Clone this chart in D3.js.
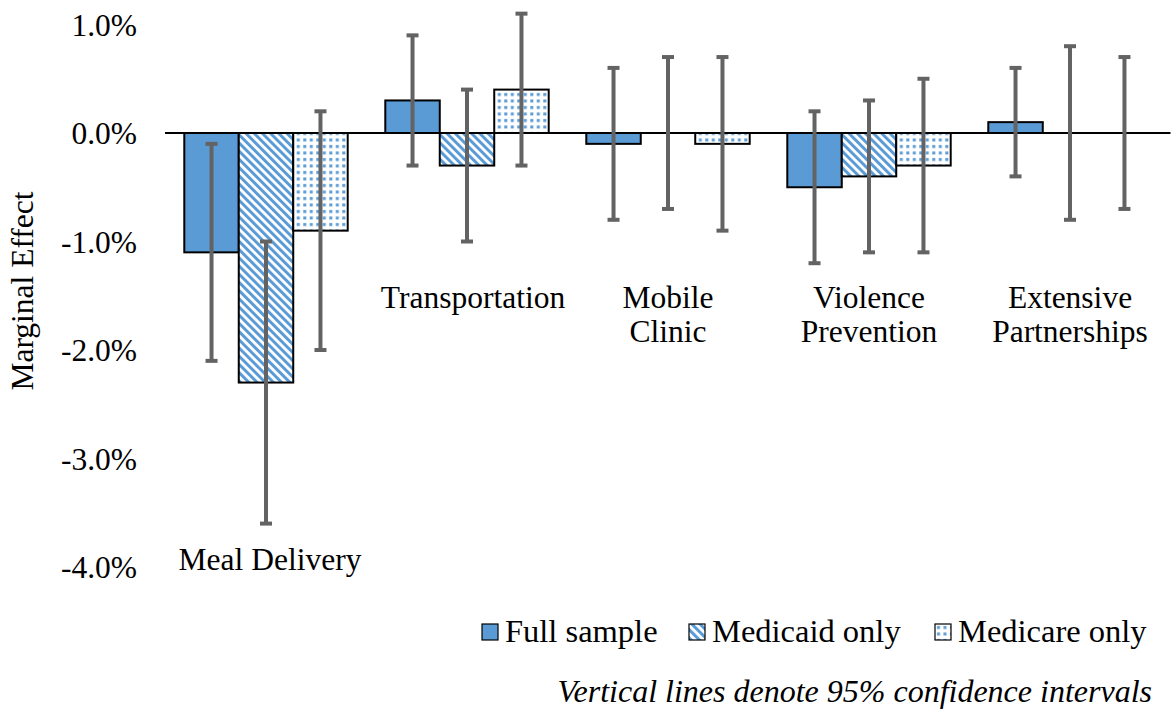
<!DOCTYPE html>
<html>
<head>
<meta charset="utf-8">
<script src="https://cdn.jsdelivr.net/npm/d3@7"></script>
<style>
  html, body { margin: 0; padding: 0; background: #fff; }
  svg { display: block; }
  svg text { font-family: "Liberation Serif", "Times New Roman", Tinos, "DejaVu Serif", serif; }
</style>
</head>
<body>
<svg id="chart" width="1172" height="711"></svg>
<script>
// Program categories (label lines) and marginal effects in percentage points
const categories = ["Meal Delivery", "Transportation", "Mobile Clinic", "Violence Prevention", "Extensive Partnerships"];
const categoryLines = [["Meal Delivery"], ["Transportation"], ["Mobile", "Clinic"], ["Violence", "Prevention"], ["Extensive", "Partnerships"]];
const seriesNames = ["Full sample", "Medicaid only", "Medicare only"];

const fullSample   = [-1.1,  0.3, -0.1, -0.5, 0.1];
const medicaidOnly = [-2.3, -0.3,  0.0, -0.4, 0.0];
const medicareOnly = [-0.9,  0.4, -0.1, -0.3, 0.0];

// 95% confidence interval bounds
const fullLow      = [-2.1, -0.3, -0.8, -1.2, -0.4];
const fullHigh     = [-0.1,  0.9,  0.6,  0.2,  0.6];
const medicaidLow  = [-3.6, -1.0, -0.7, -1.1, -0.8];
const medicaidHigh = [-1.0,  0.4,  0.7,  0.3,  0.8];
const medicareLow  = [-2.0, -0.3, -0.9, -1.1, -0.7];
const medicareHigh = [ 0.2,  1.1,  0.7,  0.5,  0.7];

const yTicks = [1, 0, -1, -2, -3, -4];
const noteText = "Vertical lines denote 95% confidence intervals";

const seriesValues = [fullSample, medicaidOnly, medicareOnly];
const seriesLow = [fullLow, medicaidLow, medicareLow];
const seriesHigh = [fullHigh, medicaidHigh, medicareHigh];

const rows = [];
categories.forEach((c, i) => {
  seriesNames.forEach((s, j) => {
    rows.push({ cat: c, series: s, idx: j, value: seriesValues[j][i], low: seriesLow[j][i], high: seriesHigh[j][i] });
  });
});

const svg = d3.select("#chart");
const FONT = 31.5;
const blue = "#5b9bd5";
const errColor = "#636363";

// Fill patterns
const defs = svg.append("defs");
const stripes = defs.append("pattern")
  .attr("id", "stripes").attr("patternUnits", "userSpaceOnUse")
  .attr("width", 5.8).attr("height", 5.8)
  .attr("patternTransform", "rotate(-45)");
stripes.append("rect").attr("width", 5.8).attr("height", 5.8).attr("fill", "#fff");
stripes.append("rect").attr("width", 3).attr("height", 5.8).attr("fill", blue);

const dots = defs.append("pattern")
  .attr("id", "dots").attr("patternUnits", "userSpaceOnUse")
  .attr("width", 6.5).attr("height", 6.5);
dots.append("rect").attr("width", 6.5).attr("height", 6.5).attr("fill", "#fff");
dots.append("rect").attr("x", 2).attr("y", 2).attr("width", 3).attr("height", 3).attr("fill", blue);

const fills = { "Full sample": blue, "Medicaid only": "url(#stripes)", "Medicare only": "url(#dots)" };

// Scales
const x0 = d3.scaleBand().domain(categories).range([165.5, 1170.5])
  .paddingInner(0.187).paddingOuter(0.0935);
const x1 = d3.scaleBand().domain(seriesNames).range([0, x0.bandwidth()]);
const y = d3.scaleLinear().domain([-4, 1]).range([567, 24.5]);

// Y tick labels (no axis line)
const yAxis = d3.axisLeft(y).tickValues(yTicks).tickSize(0).tickPadding(0)
  .tickFormat(d => d.toFixed(1) + "%");
const yg = svg.append("g").attr("transform", "translate(137,0)").call(yAxis);
yg.attr("font-family", null);
yg.select(".domain").remove();
yg.selectAll("text").attr("font-size", FONT).attr("fill", "#000").attr("dy", "0.34em");

// Y title
svg.append("text")
  .attr("transform", "translate(33,291) rotate(-90)")
  .attr("text-anchor", "middle").attr("font-size", FONT).attr("fill", "#000")
  .text("Marginal Effect");

// Bars
const barLayer = svg.append("g").attr("class", "bars");
const groups = barLayer.selectAll("g").data(categories).join("g")
  .attr("transform", d => `translate(${x0(d)},0)`);

groups.each(function(c) {
  d3.select(this).selectAll("rect").data(rows.filter(r => r.cat === c)).join("rect")
    .attr("x", d => x1(d.series))
    .attr("width", x1.bandwidth())
    .attr("y", d => y(Math.max(0, d.value)))
    .attr("height", d => Math.abs(y(d.value) - y(0)))
    .attr("fill", d => fills[d.series])
    .attr("stroke", "#000").attr("stroke-width", 2);
});

// Zero line
svg.append("line")
  .attr("x1", 165).attr("x2", 1170.5)
  .attr("y1", y(0)).attr("y2", y(0))
  .attr("stroke", "#000").attr("stroke-width", 2);

// Error bars
const eb = svg.append("g").attr("stroke", errColor).attr("stroke-width", 4);
rows.forEach(r => {
  const cx = x0(r.cat) + x1(r.series) + x1.bandwidth() / 2;
  eb.append("line").attr("x1", cx).attr("x2", cx).attr("y1", y(r.high)).attr("y2", y(r.low));
  eb.append("line").attr("x1", cx - 6).attr("x2", cx + 6).attr("y1", y(r.high)).attr("y2", y(r.high));
  eb.append("line").attr("x1", cx - 6).attr("x2", cx + 6).attr("y1", y(r.low)).attr("y2", y(r.low));
});

// Category labels
categories.forEach((c, i) => {
  const cx = x0(c) + x0.bandwidth() / 2 + (i === 0 ? 4 : i === 1 ? 6 : 0);
  const top = i === 0 ? y(-4.03) : y(-1.61);
  const t = svg.append("text").attr("text-anchor", "middle")
    .attr("font-size", FONT).attr("fill", "#000");
  categoryLines[i].forEach((line, k) => {
    t.append("tspan").attr("x", cx).attr("y", top + k * 34).text(line);
  });
});

// Legend
const legendX = [482, 689, 935];
const legend = svg.append("g");
seriesNames.forEach((s, i) => {
  const g = legend.append("g").attr("transform", `translate(${legendX[i]},0)`);
  g.append("rect").attr("width", 16).attr("height", 16).attr("y", 624)
    .attr("fill", fills[s]).attr("stroke", "#000").attr("stroke-width", 1.2);
  g.append("text").attr("x", 23).attr("y", 642)
    .attr("font-size", 32.5).attr("fill", "#000").text(s);
});

// Note
svg.append("text")
  .attr("x", 1152).attr("y", 702).attr("text-anchor", "end")
  .attr("font-size", 32).attr("font-style", "italic").attr("fill", "#000")
  .text(noteText);
</script>
</body>
</html>
